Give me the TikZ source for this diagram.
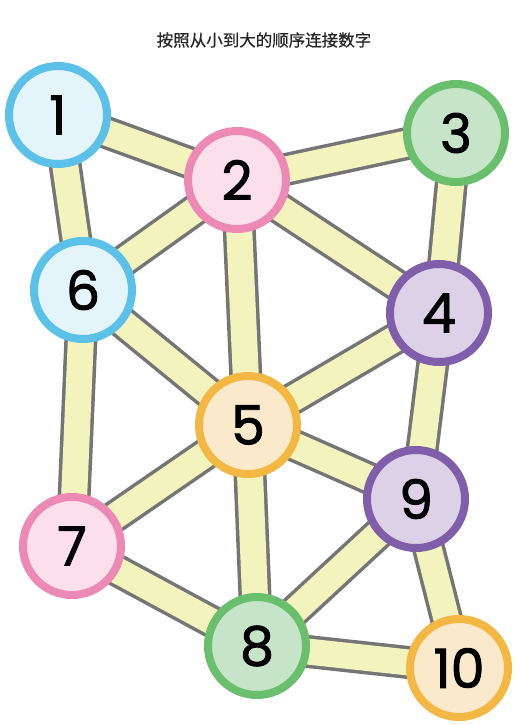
\documentclass[tikz,border=0pt]{standalone}
\usepackage{fontspec}
\setmainfont{Poppins}
\newfontfamily\numfont[FakeBold=1.6]{Poppins}
\newfontfamily\cjk[FakeBold=0.6]{Noto Sans CJK SC}
\usetikzlibrary{backgrounds}
\definecolor{bBlue}{HTML}{5BC1E9}\definecolor{fBlue}{HTML}{E4F4FB}
\definecolor{bPink}{HTML}{EC8AB5}\definecolor{fPink}{HTML}{FBDFEB}
\definecolor{bGreen}{HTML}{69BF6B}\definecolor{fGreen}{HTML}{C6E5C8}
\definecolor{bPurple}{HTML}{7F5FAA}\definecolor{fPurple}{HTML}{DDD1E8}
\definecolor{bOrange}{HTML}{F2B843}\definecolor{fOrange}{HTML}{FAE9CB}
\definecolor{bandY}{HTML}{F3F3BD}\definecolor{bandG}{HTML}{757575}
\tikzset{
  num/.style={circle, minimum size=98pt, inner sep=0pt, line width=8pt,
    font=\numfont\fontsize{54}{54}\selectfont, text=black},
  cblue/.style={num, draw=bBlue, fill=fBlue},
  cpink/.style={num, draw=bPink, fill=fPink},
  cgreen/.style={num, draw=bGreen, fill=fGreen},
  cpurple/.style={num, draw=bPurple, fill=fPurple},
  corange/.style={num, draw=bOrange, fill=fOrange},
  bandout/.style={draw=bandG, line width=33pt},
  bandin/.style={draw=bandY, line width=26pt},
}
\begin{document}
\begin{tikzpicture}[x=1pt,y=-1pt]
\useasboundingbox (0,0) rectangle (528,725);
\node[font=\cjk\fontsize{16.5}{16.5}\selectfont, text=black!85] (title) at (264,40) {按照从小到大的顺序连接数字};
\node[cblue]   (n1)  at (58,115)  {1};
\node[cpink]   (n2)  at (237,180) {2};
\node[cgreen]  (n3)  at (456,133) {3};
\node[cpurple] (n4)  at (439,313) {4};
\node[corange] (n5)  at (248,425) {5};
\node[cblue]   (n6)  at (83,290)  {6};
\node[cpink]   (n7)  at (72,546)  {7};
\node[cgreen]  (n8)  at (257,646) {8};
\node[cpurple] (n9)  at (416,499) {9};
\node[corange] (n10) at (459,668) {10};
\begin{scope}[on background layer]
\fill[white] (0,0) rectangle (528,725);
\foreach \a/\b in {n1/n2,n1/n6,n2/n3,n2/n6,n2/n4,n2/n5,n3/n4,n6/n5,n6/n7,n4/n5,n4/n9,n5/n7,n5/n9,n5/n8,n7/n8,n9/n8,n9/n10,n8/n10}
  \draw[bandout] (\a.center) -- (\b.center);
\foreach \a/\b in {n1/n2,n1/n6,n2/n3,n2/n6,n2/n4,n2/n5,n3/n4,n6/n5,n6/n7,n4/n5,n4/n9,n5/n7,n5/n9,n5/n8,n7/n8,n9/n8,n9/n10,n8/n10}
  \draw[bandin] (\a.center) -- (\b.center);
\end{scope}
\end{tikzpicture}
\end{document}
